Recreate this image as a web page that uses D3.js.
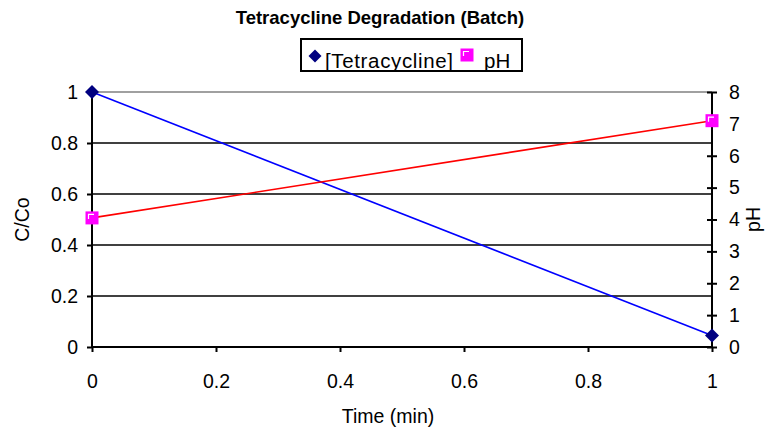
<!DOCTYPE html>
<html><head><meta charset="utf-8">
<script src="https://cdn.jsdelivr.net/npm/d3@7"></script>
<style>body{margin:0;background:#fff}svg{display:block}text{font-family:"Liberation Sans",Arial,sans-serif}</style>
</head><body><div id="c"></div>
<script>
const times = [0, 1];
const concentration = [1.0, 0.045];
const pH = [4.05, 7.1];
const leftTicks = [0, 0.2, 0.4, 0.6, 0.8, 1];
const rightTicks = [0, 1, 2, 3, 4, 5, 6, 7, 8];
const xTicks = [0, 0.2, 0.4, 0.6, 0.8, 1];

const W = 775, H = 435;
const m = {l: 92, r: 63, t: 92, b: 88};
const svg = d3.select("#c").append("svg").attr("width", W).attr("height", H);
const x = d3.scaleLinear().domain([0, 1]).range([m.l, W - m.r]);
const yL = d3.scaleLinear().domain([0, 1]).range([H - m.b, m.t]);
const yR = d3.scaleLinear().domain([0, 8]).range([H - m.b, m.t]);
const FS = 19.5;

// gridlines
svg.append("g").selectAll("line").data(leftTicks.filter(d => d > 0)).join("line")
  .attr("x1", x(0)).attr("x2", x(1)).attr("y1", d => yL(d)).attr("y2", d => yL(d))
  .attr("stroke", d => d === 1 ? "#808080" : "#000").attr("stroke-width", 1.3);

// left axis
const gL = svg.append("g").attr("transform", `translate(${x(0)},0)`)
  .call(d3.axisLeft(yL).tickValues(leftTicks).tickFormat(d3.format("")).tickSize(5).tickPadding(9));
// right axis
const gR = svg.append("g").attr("transform", `translate(${x(1)},0)`)
  .call(d3.axisRight(yR).tickValues(rightTicks).tickSize(5).tickPadding(12));
gR.selectAll(".tick line").attr("x1", -5).attr("x2", 5);
// bottom axis
const gB = svg.append("g").attr("transform", `translate(0,${yL(0)})`)
  .call(d3.axisBottom(x).tickValues(xTicks).tickFormat(d3.format("")).tickSize(5).tickPadding(22));
[gL, gR, gB].forEach(g => {
  g.select(".domain").attr("stroke", "#000").attr("stroke-width", 2);
  g.selectAll(".tick line").attr("stroke", "#000").attr("stroke-width", 2);
  g.selectAll("text").attr("font-size", FS).attr("fill", "#000").attr("font-family", '"Liberation Sans",Arial,sans-serif');
});
gL.select(".domain").attr("d", `M0,${yL(0)}V${yL(1)}`);
gR.select(".domain").attr("d", `M0,${yR(0)}V${yR(8)}`);
gB.select(".domain").attr("d", `M${x(0)},0H${x(1)}`);

// lines
const lineL = d3.line().x((d, i) => x(times[i])).y(d => yL(d));
const lineR = d3.line().x((d, i) => x(times[i])).y(d => yR(d));
svg.append("path").attr("d", lineL(concentration)).attr("fill", "none").attr("stroke", "#0000FF").attr("stroke-width", 1.6);
svg.append("path").attr("d", lineR(pH)).attr("fill", "none").attr("stroke", "#FF0000").attr("stroke-width", 1.6);

// markers
const diamond = s => `M0,${-s}L${s},0L0,${s}L${-s},0Z`;
svg.append("g").selectAll("path").data(concentration).join("path")
  .attr("transform", (d, i) => `translate(${x(times[i])},${yL(d)})`)
  .attr("d", diamond(7)).attr("fill", "#000080");
function sq(g, cx, cy) {
  g.append("rect").attr("x", cx - 6.5).attr("y", cy - 6.5).attr("width", 13).attr("height", 13).attr("fill", "#FF00FF");
  g.append("path").attr("d", `M${cx - 3.5},${cy + 1}V${cy - 3.5}H${cx + 2}`).attr("fill", "none").attr("stroke", "#fff").attr("stroke-width", 1.2);
}
const gP = svg.append("g");
pH.forEach((d, i) => sq(gP, x(times[i]), yR(d)));

// title
svg.append("text").attr("x", 380).attr("y", 24).attr("text-anchor", "middle")
  .attr("font-size", 18.5).attr("font-weight", "bold").text("Tetracycline Degradation (Batch)");

// legend
const lg = svg.append("g");
lg.append("rect").attr("x", 301).attr("y", 39).attr("width", 221).attr("height", 32)
  .attr("fill", "#fff").attr("stroke", "#000").attr("stroke-width", 2);
lg.append("path").attr("transform", "translate(315,56)").attr("d", diamond(6.5)).attr("fill", "#000080");
lg.append("text").attr("x", 325).attr("y", 68).attr("font-size", 20.5).attr("textLength", 128).text("[Tetracycline]");
sq(lg, 467, 55);
lg.append("text").attr("x", 484).attr("y", 68).attr("font-size", 20.5).text("pH");

// axis titles
svg.append("text").attr("x", 388).attr("y", 423).attr("text-anchor", "middle").attr("font-size", FS).text("Time (min)");
svg.append("text").attr("transform", `translate(29,${yL(0.5)}) rotate(-90)`).attr("text-anchor", "middle").attr("font-size", FS).text("C/Co");
svg.append("text").attr("transform", `translate(760,${yR(4)}) rotate(-90)`).attr("text-anchor", "middle").attr("font-size", FS).text("pH");
</script></body></html>
